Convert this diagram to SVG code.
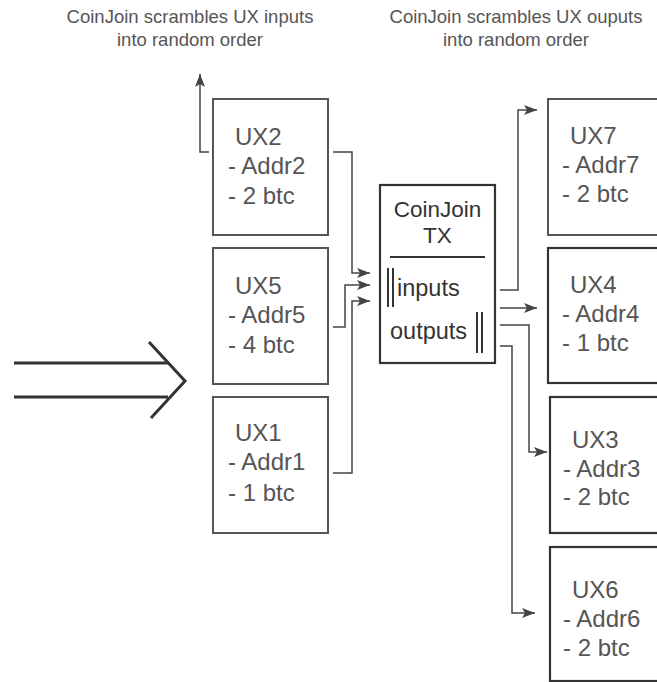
<svg xmlns="http://www.w3.org/2000/svg" width="657" height="682" viewBox="0 0 657 682">
<style>
.cap{font-family:"Liberation Sans",Arial,sans-serif;font-size:18.5px;fill:#555;text-anchor:middle}
.nt{font-family:"Liberation Sans",Arial,sans-serif;font-size:24px;fill:#555}
.ct{font-family:"Liberation Sans",Arial,sans-serif;font-size:22.5px;fill:#333}
.io{font-size:23.5px}
.box{fill:#fff;stroke:#555;stroke-width:2}
.boxd{fill:#fff;stroke:#333;stroke-width:2.2}
.conn{fill:none;stroke:#444;stroke-width:1.5}
.bar{stroke:#333;stroke-width:2}
</style>
<defs>
<marker id="ah" markerUnits="userSpaceOnUse" markerWidth="14" markerHeight="12" refX="13" refY="6" orient="auto">
<path d="M0,1 L13,6 L0,11 L3,6 z" fill="#444"/>
</marker>
</defs>
<rect width="657" height="682" fill="#fff"/>
<text class="cap" x="190" y="23">CoinJoin scrambles UX inputs</text>
<text class="cap" x="190" y="46">into random order</text>
<text class="cap" x="516" y="23">CoinJoin scrambles UX ouputs</text>
<text class="cap" x="516" y="46">into random order</text>
<g id="bigarrow" fill="none" stroke="#333" stroke-width="3">
<path d="M14,363 H168 M14,397 H168 M149,342 L185,381 L151,418"/>
</g>
<g id="connectors" class="conn">
<path d="M209,152 H200 V74" marker-end="url(#ah)"/>
<path d="M333,152 H352 V273 H370" marker-end="url(#ah)"/>
<path d="M333,327 H345 V285 H370" marker-end="url(#ah)"/>
<path d="M333,473 H352 V301 H370" marker-end="url(#ah)"/>
<path d="M500,290 H518 V110 H537" marker-end="url(#ah)"/>
<path d="M500,308 H537" marker-end="url(#ah)"/>
<path d="M500,325 H529 V452 H547" marker-end="url(#ah)"/>
<path d="M500,346 H512 V613 H535" marker-end="url(#ah)"/>
</g>
<g id="UX2">
<rect class="box" x="213" y="99" width="115" height="136"/>
<text class="nt" x="235" y="145">UX2</text>
<text class="nt" x="228" y="174">- Addr2</text>
<text class="nt" x="228" y="204">- 2 btc</text>
</g>
<g id="UX5">
<rect class="box" x="213" y="248" width="115" height="136"/>
<text class="nt" x="235" y="294">UX5</text>
<text class="nt" x="228" y="323">- Addr5</text>
<text class="nt" x="228" y="353">- 4 btc</text>
</g>
<g id="UX1">
<rect class="box" x="213" y="397" width="115" height="136"/>
<text class="nt" x="235" y="441">UX1</text>
<text class="nt" x="228" y="470">- Addr1</text>
<text class="nt" x="228" y="501">- 1 btc</text>
</g>
<g id="CoinJoinTX">
<rect class="boxd" x="380" y="185" width="115" height="178"/>
<text class="ct" x="437.5" y="217" text-anchor="middle">CoinJoin</text>
<text class="ct" x="437.5" y="243" text-anchor="middle">TX</text>
<line class="bar" x1="390" y1="257" x2="485" y2="257" stroke-width="1.5"/>
<line class="bar" x1="388" y1="268" x2="388" y2="307"/>
<line class="bar" x1="393" y1="268" x2="393" y2="307"/>
<text class="ct io" x="397" y="296">inputs</text>
<text class="ct io" x="390" y="339">outputs</text>
<line class="bar" x1="477" y1="312" x2="477" y2="353"/>
<line class="bar" x1="482" y1="312" x2="482" y2="353"/>
</g>
<g id="UX7">
<rect class="box" x="548" y="99" width="130" height="136"/>
<text class="nt" x="570" y="144">UX7</text>
<text class="nt" x="562" y="173">- Addr7</text>
<text class="nt" x="562" y="202">- 2 btc</text>
</g>
<g id="UX4">
<rect class="boxd" x="548" y="248" width="130" height="135"/>
<text class="nt" x="570" y="293">UX4</text>
<text class="nt" x="562" y="322">- Addr4</text>
<text class="nt" x="562" y="351">- 1 btc</text>
</g>
<g id="UX3">
<rect class="boxd" x="550" y="397" width="130" height="136"/>
<text class="nt" x="572" y="448">UX3</text>
<text class="nt" x="563" y="477">- Addr3</text>
<text class="nt" x="563" y="505">- 2 btc</text>
</g>
<g id="UX6">
<rect class="boxd" x="550" y="547" width="130" height="134"/>
<text class="nt" x="572" y="598">UX6</text>
<text class="nt" x="563" y="627">- Addr6</text>
<text class="nt" x="563" y="656">- 2 btc</text>
</g>
</svg>
